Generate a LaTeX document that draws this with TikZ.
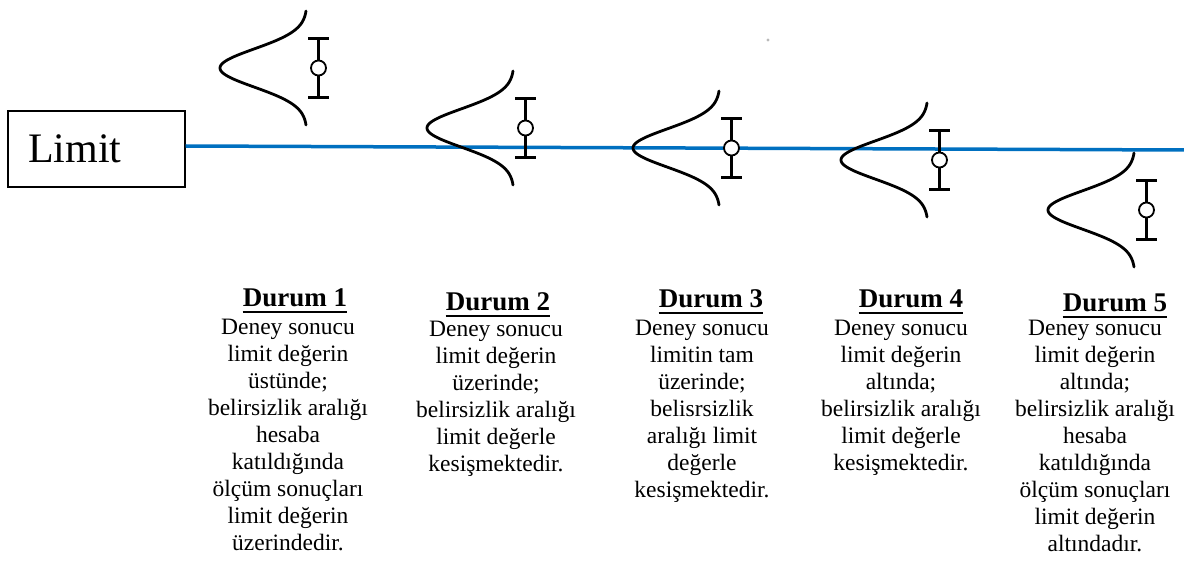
\documentclass[tikz,border=0pt]{standalone}
\usepackage{fontspec}
\setmainfont{Liberation Serif}
\definecolor{lineblue}{RGB}{0,112,192}
\begin{document}
\begin{tikzpicture}[x=1pt,y=-1pt,
  bell/.style={line width=2.8pt, line cap=round},
  ebar/.style={line width=2.4pt},
  marker/.style={circle, draw, fill=white, line width=1.8pt, minimum size=15pt, inner sep=0pt},
  limitline/.style={line width=3.5pt, draw=lineblue},
  limitbox/.style={draw, line width=1.2pt, minimum width=177pt, minimum height=76pt,
    text width=137pt, align=left, inner xsep=20pt, inner ysep=0pt, font=\fontsize{42}{42}\selectfont},
  durum/.style={font=\fontsize{27}{30}\selectfont\bfseries, inner sep=0pt, anchor=base},
  body/.style={font=\fontsize{23.5}{27}\selectfont, align=center, inner sep=0pt, anchor=north},
  uline/.style={line width=1.8pt},
]
\useasboundingbox (0,0) rectangle (1184,561);

% Limit box and limit line
\node[limitbox] (limit) at (96.5,149) {Limit};
\coordinate (le) at (1184,150);
\draw[limitline] ([yshift=3pt]limit.east) -- (le);

% stray grey dot
\fill[gray!55] (768,40) circle (1.6);

% distributions with error bars
\foreach \tx/\py/\n in {307/68/1, 514/128/2, 720/148/3, 928/160/4, 1135/210/5}{
  \draw[bell] plot[domain=-57:57, samples=100, smooth]
     ({\tx-87*exp(-(\x/27)*(\x/27))}, {\py+\x});
  \coordinate (bt\n) at (\tx+11.5, \py-29.5);
  \coordinate (bb\n) at (\tx+11.5, \py+29.5);
  \draw[ebar] (bt\n) -- (bb\n);
  \draw[ebar] ([xshift=-10.5pt]bt\n) -- ([xshift=10.5pt]bt\n);
  \draw[ebar] ([xshift=-10.5pt]bb\n) -- ([xshift=10.5pt]bb\n);
  \node[marker] (m\n) at (\tx+11.5, \py) {};
}

% titles
\node[durum] (t1) at (295,307) {Durum 1};
\node[durum] (t2) at (498,311) {Durum 2};
\node[durum] (t3) at (711,308) {Durum 3};
\node[durum] (t4) at (911,308) {Durum 4};
\node[durum] (t5) at (1115,312) {Durum 5};
\foreach \n in {1,...,5}{
  \draw[uline] ([yshift=-5pt]t\n.base west) -- ([yshift=-5pt]t\n.base east);
}

% bodies
\node[body] (b1) at (288,319) {Deney sonucu\\limit değerin\\üstünde;\\belirsizlik aralığı\\hesaba\\katıldığında\\ölçüm sonuçları\\limit değerin\\üzerindedir.};
\node[body] (b2) at (496,321) {Deney sonucu\\limit değerin\\üzerinde;\\belirsizlik aralığı\\limit değerle\\kesişmektedir.};
\node[body] (b3) at (702,320) {Deney sonucu\\limitin tam\\üzerinde;\\belisrsizlik\\aralığı limit\\değerle\\kesişmektedir.};
\node[body] (b4) at (901,320) {Deney sonucu\\limit değerin\\altında;\\belirsizlik aralığı\\limit değerle\\kesişmektedir.};
\node[body] (b5) at (1095,320) {Deney sonucu\\limit değerin\\altında;\\belirsizlik aralığı\\hesaba\\katıldığında\\ölçüm sonuçları\\limit değerin\\altındadır.};
\end{tikzpicture}
\end{document}
